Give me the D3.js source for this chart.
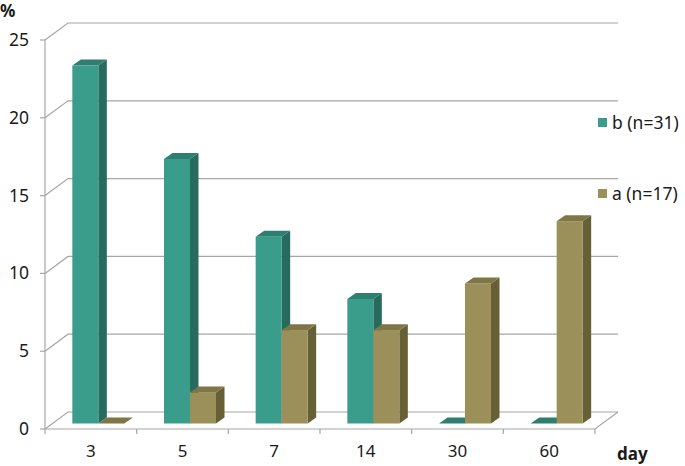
<!DOCTYPE html>
<html lang="en">
<head>
<meta charset="UTF-8">
<script src="https://cdnjs.cloudflare.com/ajax/libs/d3/7.8.5/d3.min.js"></script>
<title>Chart</title>
<style>
  body { margin: 0; background: #fff; }
  text { font-family: "Noto Sans", "Open Sans", sans-serif; fill: #1a1a1a; }
</style>
</head>
<body>
<div id="chart"></div>
<script>
// data
let days = ["3", "5", "7", "14", "30", "60"];
let seriesNames = ["b (n=31)", "a (n=17)"];
let bValues = [23, 17, 12, 8, 0, 0];
let aValues = [0, 2, 6, 6, 9, 13];
let yTicks = [0, 5, 10, 15, 20, 25];

let width = 685, height = 466;

// 3d look: back wall offset and bar depth
let wallDx = 23, wallDy = -17;
let barShiftX = 7.5, barShiftY = -5.5;
let depthX = 8.5, depthY = -6;

let colors = [
  { front: "#3a9c8a", side: "#276b5e", top: "#2f7f70" },
  { front: "#9b9059", side: "#675f36", top: "#7f7646" }
];

let x = d3.scaleBand().domain(days).range([45, 595]);
let y = d3.scaleLinear().domain([0, 25]).range([429, 40]);

let svg = d3.select("#chart").append("svg")
  .attr("width", width).attr("height", height);

// gridlines on the back wall + diagonals on the side wall
let grid = svg.append("g").attr("stroke", "#a6a6a6").attr("stroke-width", 1.2).attr("fill", "none");
yTicks.forEach(function(t) {
  grid.append("path")
    .attr("d", "M45," + y(t) + "L" + (45 + wallDx) + "," + (y(t) + wallDy) + "H" + (595 + wallDx));
});
// floor front edge and right edge
grid.append("path").attr("d", "M45," + y(0) + "H595L" + (595 + wallDx) + "," + (y(0) + wallDy));
// left axis
grid.append("path").attr("d", "M45," + y(25) + "V" + y(0));
yTicks.forEach(function(t) {
  grid.append("path").attr("d", "M40," + y(t) + "H45");
});
// x ticks
x.domain().concat(["end"]).forEach(function(d, i) {
  let xx = 45 + i * x.bandwidth();
  grid.append("path").attr("d", "M" + xx + "," + y(0) + "V" + (y(0) + 5));
});

// bars
let barW = 26;
let bars = svg.append("g");
days.forEach(function(d, i) {
  [bValues[i], aValues[i]].forEach(function(v, s) {
    let c = colors[s];
    let x0 = x(d) + x.bandwidth() / 2 - barW + s * barW + barShiftX;
    let x1 = x0 + barW;
    let yb = y(0) + barShiftY;
    let yt = y(v) + barShiftY;
    let g = bars.append("g");
    // side
    g.append("path")
      .attr("d", "M" + x1 + "," + yt + "L" + (x1 + depthX) + "," + (yt + depthY) +
        "L" + (x1 + depthX) + "," + (yb + depthY) + "L" + x1 + "," + yb + "Z")
      .attr("fill", c.side);
    // front
    g.append("rect")
      .attr("x", x0).attr("y", yt)
      .attr("width", barW).attr("height", yb - yt)
      .attr("fill", c.front);
    // top
    g.append("path")
      .attr("d", "M" + x0 + "," + yt + "L" + (x0 + depthX) + "," + (yt + depthY) +
        "L" + (x1 + depthX) + "," + (yt + depthY) + "L" + x1 + "," + yt + "Z")
      .attr("fill", c.top);
  });
});

// y tick labels
svg.append("g").selectAll("text").data(yTicks).enter().append("text")
  .attr("x", 29).attr("y", function(t) { return y(t) + 6; })
  .attr("text-anchor", "end").attr("font-size", 17.5)
  .text(function(t) { return t; });

// x labels
svg.append("g").selectAll("text").data(days).enter().append("text")
  .attr("x", function(d) { return x(d) + x.bandwidth() / 2; })
  .attr("y", 457)
  .attr("text-anchor", "middle").attr("font-size", 17)
  .text(function(d) { return d; });

// axis titles
svg.append("text").attr("x", 0).attr("y", 17).attr("font-size", 17)
  .attr("font-weight", "bold").text("%");
svg.append("text").attr("x", 617).attr("y", 460).attr("font-size", 17)
  .attr("font-weight", "bold").text("day");

// legend
let legendY = [123, 194];
seriesNames.forEach(function(name, s) {
  svg.append("rect")
    .attr("x", 598).attr("y", legendY[s] - 5).attr("width", 9).attr("height", 9)
    .attr("fill", colors[s].front);
  svg.append("text")
    .attr("x", 612).attr("y", legendY[s] + 6).attr("font-size", 17.5)
    .text(name);
});
</script>
</body>
</html>
